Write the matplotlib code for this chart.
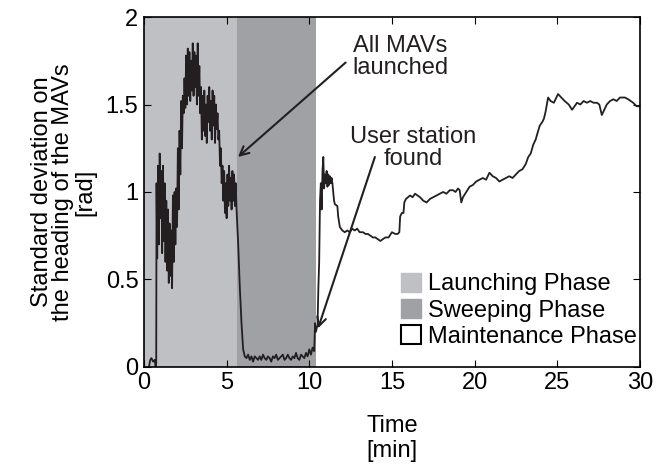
import matplotlib.pyplot as plt
from matplotlib.patches import Patch

plt.rcParams['font.family'] = ['Liberation Sans', 'DejaVu Sans']

# phase boundaries [min]
launch_end = 5.6
sweep_end = 10.4

# time [min] and std deviation of heading [rad]
t = [0.30, 0.38, 0.45, 0.55, 0.65, 0.70, 0.74, 0.76,
     0.80, 0.85, 0.90, 0.95, 1.00, 1.05, 1.10, 1.15, 1.20, 1.25,
     1.30, 1.35, 1.40, 1.45, 1.50, 1.55, 1.60, 1.65, 1.70, 1.75,
     1.80, 1.85, 1.90, 1.95, 2.00, 2.05, 2.10, 2.15, 2.20, 2.25,
     2.30, 2.35, 2.40, 2.45, 2.50, 2.55, 2.60, 2.65, 2.70, 2.75,
     2.80, 2.85, 2.90, 2.95, 3.00, 3.05, 3.10, 3.15, 3.20, 3.25,
     3.30, 3.35, 3.40, 3.45, 3.50, 3.55, 3.60, 3.65, 3.70, 3.75,
     3.80, 3.85, 3.90, 3.95, 4.00, 4.05, 4.10, 4.15, 4.20, 4.25,
     4.30, 4.35, 4.40, 4.45, 4.50, 4.55, 4.60, 4.65, 4.70, 4.75,
     4.80, 4.85, 4.90, 4.95, 5.00, 5.05, 5.10, 5.15, 5.20, 5.25,
     5.30, 5.35, 5.40, 5.45, 5.50, 5.55,
     5.60, 5.70, 5.80, 5.90, 6.00, 6.10,
     6.2, 6.3, 6.4, 6.5, 6.6, 6.7, 6.8, 6.9, 7.0, 7.1, 7.2, 7.3,
     7.4, 7.5, 7.6, 7.7, 7.8, 7.9, 8.0, 8.1, 8.2, 8.3, 8.4, 8.5,
     8.6, 8.7, 8.8, 8.9, 9.0, 9.1, 9.2, 9.3, 9.4, 9.5, 9.6, 9.7,
     9.8, 9.9, 10.0, 10.1, 10.2, 10.3,
     10.35, 10.4, 10.5, 10.55, 10.6, 10.65, 10.7, 10.75, 10.8, 10.85,
     10.9, 10.95, 11.0, 11.05, 11.1, 11.15, 11.2, 11.25, 11.3, 11.35,
     11.4, 11.5, 11.55, 11.7, 11.75, 11.85,
     12.0, 12.15, 12.3, 12.45, 12.6, 12.75, 12.9, 13.05, 13.25, 13.4,
     13.55, 13.7, 13.85, 14.0, 14.15, 14.3, 14.45, 14.6, 14.8, 15.0,
     15.2, 15.35, 15.45, 15.5, 15.6, 15.7, 15.75, 15.85, 16.1, 16.25,
     16.4, 16.55, 16.7, 16.9, 17.1, 17.3, 17.5, 17.7, 17.9, 18.1,
     18.3, 18.5, 18.7, 18.85, 19.0, 19.1, 19.2, 19.3, 19.5, 19.7,
     19.9, 20.1, 20.3, 20.5, 20.7, 20.9, 21.1, 21.3, 21.5, 21.7,
     21.9, 22.1, 22.3, 22.5, 22.7, 22.9, 23.1, 23.25, 23.4, 23.55,
     23.7, 23.85, 23.95, 24.1, 24.2, 24.3, 24.45, 24.6, 24.8, 25.05,
     25.25, 25.45, 25.7, 25.9, 26.05, 26.2, 26.4, 26.6, 26.8, 27.0,
     27.2, 27.4, 27.55, 27.7, 27.85, 28.0, 28.2, 28.4, 28.6, 28.8,
     29.1, 29.3, 29.6, 29.8, 30.0]
std = [0.00, 0.04, 0.05, 0.03, 0.04, 0.00, 0.02, 1.05,
       0.62, 1.15, 0.70, 1.22, 0.85, 1.12, 0.65, 1.15, 0.72, 1.05,
       0.60, 0.95, 0.55, 0.90, 0.48, 0.82, 0.52, 0.78, 0.45, 0.98,
       0.60, 1.00, 0.70, 1.02, 0.80, 1.25, 0.90, 1.35, 1.10, 1.52,
       1.25, 1.55, 1.45, 1.65, 1.48, 1.78, 1.50, 1.82, 1.55, 1.80,
       1.52, 1.75, 1.58, 1.85, 1.55, 1.80, 1.60, 1.78, 1.50, 1.85,
       1.55, 1.72, 1.45, 1.60, 1.30, 1.55, 1.35, 1.58, 1.32, 1.50,
       1.28, 1.55, 1.40, 1.60, 1.35, 1.52, 1.30, 1.58, 1.38, 1.55,
       1.28, 1.50, 1.36, 1.45, 1.30, 1.35, 1.15, 1.25, 1.05, 1.15,
       0.95, 1.12, 0.88, 1.05, 0.85, 1.10, 0.92, 1.15, 0.95, 1.08,
       0.90, 1.12, 0.95, 1.10, 0.92, 1.05,
       0.90, 0.70, 0.45, 0.25, 0.10, 0.06,
       0.05, 0.07, 0.04, 0.06, 0.03, 0.06, 0.05, 0.04, 0.06, 0.04, 0.07, 0.05,
       0.04, 0.06, 0.05, 0.03, 0.06, 0.05, 0.07, 0.04, 0.05, 0.06, 0.07, 0.04,
       0.05, 0.07, 0.05, 0.04, 0.06, 0.05, 0.08, 0.05, 0.04, 0.07, 0.06, 0.05,
       0.08, 0.06, 0.10, 0.07, 0.11, 0.09,
       0.25, 0.20, 0.24, 0.45, 0.60, 0.95, 1.05, 0.90, 1.12, 1.20,
       1.02, 1.10, 1.05, 1.12, 1.03, 1.10, 1.04, 1.09, 1.05, 1.08,
       1.05, 0.95, 0.93, 0.92, 0.86, 0.80,
       0.78, 0.77, 0.78, 0.77, 0.79, 0.78, 0.79, 0.77, 0.77, 0.76,
       0.76, 0.75, 0.74, 0.74, 0.73, 0.72, 0.73, 0.74, 0.74, 0.77,
       0.76, 0.76, 0.77, 0.86, 0.88, 0.88, 0.94, 0.96, 0.98, 0.97,
       0.99, 0.98, 0.97, 0.95, 0.94, 0.96, 0.97, 0.98, 0.99, 1.00,
       0.99, 1.01, 1.01, 1.00, 1.02, 1.01, 0.94, 0.97, 1.00, 1.03,
       1.04, 1.06, 1.07, 1.08, 1.07, 1.11, 1.09, 1.08, 1.06, 1.07,
       1.08, 1.09, 1.08, 1.10, 1.12, 1.13, 1.16, 1.20, 1.22, 1.27,
       1.30, 1.35, 1.38, 1.40, 1.42, 1.46, 1.54, 1.52, 1.51, 1.56,
       1.54, 1.52, 1.50, 1.47, 1.49, 1.51, 1.50, 1.52, 1.51, 1.52,
       1.51, 1.51, 1.50, 1.44, 1.47, 1.50, 1.52, 1.53, 1.52, 1.54,
       1.54, 1.53, 1.51, 1.49, 1.49]

# arrow tails and heads (data coords)
launched_tail = (12.2, 1.74)
launched_head = (5.69, 1.20)
found_tail = (13.97, 1.20)
found_head = (10.53, 0.22)

launch_col = '#bfc0c4'
sweep_col = '#a0a1a5'
fs = 17

fig = plt.figure(figsize=(6.62, 4.74), dpi=100)
ax = fig.add_axes([0.2175, 0.226, 0.749, 0.738])

ax.axvspan(0, launch_end, color=launch_col, lw=0)
ax.axvspan(launch_end, sweep_end, color=sweep_col, lw=0)
ax.plot(t, std, color='#231f20', lw=1.3)

ax.set_xlim(0, 30)
ax.set_ylim(0, 2)
ax.set_xticks([0, 5, 10, 15, 20, 25, 30])
ax.set_yticks([0, 0.5, 1, 1.5, 2])
ax.set_yticklabels(['0', '0.5', '1', '1.5', '2'])
ax.tick_params(direction='in', top=True, right=True, labelsize=fs, length=5, pad=4)
for s in ax.spines.values():
    s.set_linewidth(1.2)

ax.set_xlabel('Time\n[min]', fontsize=fs, labelpad=15, linespacing=1.15)
ax.set_ylabel('Standard deviation on\nthe heading of the MAVs\n[rad]', fontsize=fs,
              labelpad=7, linespacing=0.97)

ax.text(15.5, 1.77, 'All MAVs\nlaunched', ha='center', va='center', fontsize=fs,
        linespacing=1.0, color='#231f20')
ax.text(16.27, 1.25, 'User station\nfound', ha='center', va='center', fontsize=fs,
        linespacing=1.0, color='#231f20')
for tail, head in [(launched_tail, launched_head), (found_tail, found_head)]:
    ax.annotate('', xy=head, xytext=tail,
                arrowprops=dict(arrowstyle='->', color='#231f20', lw=1.5,
                                shrinkA=0, shrinkB=0, mutation_scale=16))

handles = [Patch(facecolor=launch_col, edgecolor=launch_col),
           Patch(facecolor=sweep_col, edgecolor=sweep_col),
           Patch(facecolor='white', edgecolor='black', lw=1.5)]
ax.legend(handles, ['Launching Phase', 'Sweeping Phase', 'Maintenance Phase'],
          loc='lower left', frameon=False, fontsize=fs, handlelength=0.85,
          handleheight=0.85, handletextpad=0.3, labelspacing=0.15,
          borderpad=0, borderaxespad=0, bbox_to_anchor=(0.518, 0.055))

fig.savefig('out.png', dpi=100)
